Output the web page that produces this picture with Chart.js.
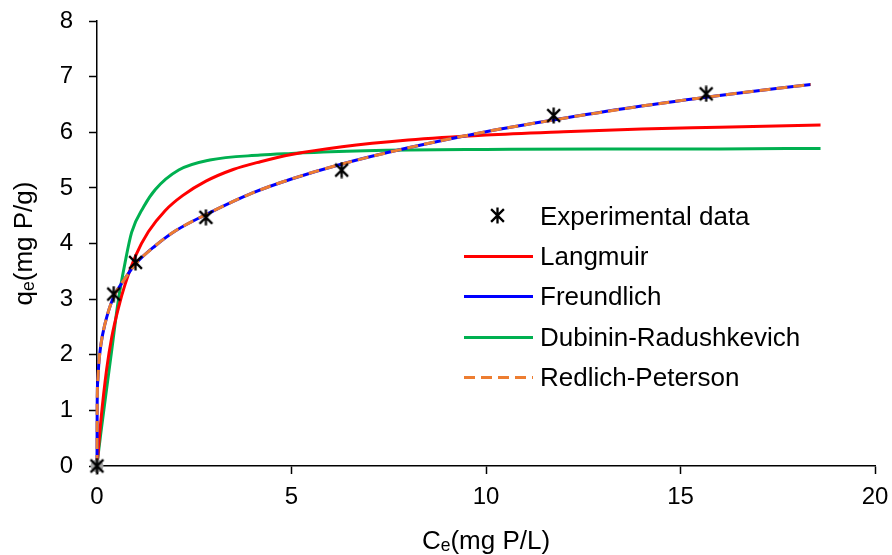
<!DOCTYPE html>
<html>
<head>
<meta charset="utf-8">
<script src="https://cdn.jsdelivr.net/npm/chart.js@4.4.1/dist/chart.umd.min.js"></script>
<style>
  html, body { margin: 0; padding: 0; background: #fff; }
  #wrap { position: relative; width: 892px; height: 555px; }
  #legend {
    position: absolute; left: 463px; top: 196px;
    font-family: "Liberation Sans", Arial, sans-serif; font-size: 26px; color: #000;
  }
  .row { display: flex; align-items: center; height: 40.4px; white-space: nowrap; }
  .swatch { position: relative; width: 70px; height: 20px; margin-right: 7px; }
  .swatch .ln { position: absolute; left: 1px; width: 69px; top: 8.5px; height: 3px; }
  .swatch canvas { position: absolute; left: 26px; top: 1px; }
</style>
</head>
<body>
<div id="wrap">
  <canvas id="isotherms" width="892" height="555"></canvas>
  <div id="legend"></div>
</div>
<script>
// experimental points
var expC = [0, 0.43, 0.99, 2.8, 6.29, 11.74, 15.66];
var expQ = [0, 3.09, 3.66, 4.47, 5.32, 6.30, 6.69];

// model curves
var langC = [0, 0.1, 0.25, 0.38, 0.55, 0.72, 1, 1.32, 1.75, 2.2, 2.8, 3.5, 4.2, 5, 6.3, 8, 10, 12, 14, 16, 18.6];
var langQ = [0, 0.82, 1.75, 2.32, 2.84, 3.26, 3.79, 4.21, 4.59, 4.86, 5.12, 5.33, 5.47, 5.60, 5.74, 5.86, 5.95, 6.01, 6.06, 6.09, 6.13];

var freC = [0, 0.005, 0.02, 0.05, 0.1, 0.2, 0.42, 0.7, 1, 1.5, 2, 2.8, 4, 5, 6.3, 8, 10, 12, 14, 16, 18.35];
var freQ = [0, 1.13, 1.53, 1.87, 2.18, 2.54, 3.03, 3.35, 3.64, 3.96, 4.22, 4.52, 4.91, 5.16, 5.43, 5.72, 6.01, 6.25, 6.47, 6.66, 6.86];

var drC = [0, 0.035, 0.1, 0.21, 0.38, 0.55, 0.72, 0.89, 1.2, 1.5, 2.1, 2.9, 4.2, 5, 6, 8, 10, 13, 16, 18.6];
var drQ = [0, 0.23, 0.6, 1.19, 2.09, 2.99, 3.65, 4.2, 4.66, 4.97, 5.32, 5.5, 5.59, 5.62, 5.65, 5.68, 5.69, 5.70, 5.70, 5.71];

var rpC = [0, 0.005, 0.02, 0.05, 0.1, 0.2, 0.42, 0.7, 1, 1.5, 2, 2.8, 4, 5, 6.3, 8, 10, 12, 14, 16, 18.35];
var rpQ = [0, 1.13, 1.53, 1.87, 2.18, 2.54, 3.03, 3.35, 3.64, 3.96, 4.22, 4.52, 4.91, 5.16, 5.43, 5.72, 6.01, 6.25, 6.47, 6.66, 6.86];

var xTicks = [0, 5, 10, 15, 20];
var yTicks = [0, 1, 2, 3, 4, 5, 6, 7, 8];

var FONT = '"Liberation Sans", Arial, "DejaVu Sans", sans-serif';

function pts(xs, ys) {
  return xs.map(function (x, i) { return { x: x, y: ys[i] }; });
}

// excel style star marker: an X with a vertical bar
function makeStar(size, lw) {
  var c = document.createElement('canvas');
  c.width = size; c.height = size;
  var g = c.getContext('2d');
  var m = size / 2, r = size / 2 - 0.5, d = r * 0.8;
  g.strokeStyle = '#000';
  g.lineWidth = lw;
  g.beginPath();
  g.moveTo(m - d, m - d); g.lineTo(m + d, m + d);
  g.moveTo(m + d, m - d); g.lineTo(m - d, m + d);
  g.moveTo(m, m - r); g.lineTo(m, m + r);
  g.stroke();
  return c;
}

var curve = function (label, xs, ys, color, order, dash) {
  return {
    label: label,
    data: pts(xs, ys),
    borderColor: color,
    backgroundColor: color,
    borderWidth: 3,
    borderDash: dash || [],
    pointRadius: 0,
    showLine: true,
    fill: false,
    cubicInterpolationMode: 'monotone',
    clip: false,
    order: order
  };
};

var datasets = [
  {
    label: 'Experimental data',
    data: pts(expC, expQ),
    pointStyle: makeStar(17, 2.3),
    pointRadius: 8,
    showLine: false,
    clip: false,
    order: 0,
    marker: true
  },
  curve('Langmuir', langC, langQ, '#FF0000', 4),
  curve('Freundlich', freC, freQ, '#0000FF', 3),
  curve('Dubinin-Radushkevich', drC, drQ, '#00B050', 5),
  curve('Redlich-Peterson', rpC, rpQ, '#ED7D31', 2, [11, 6]),
  {
    label: 'origin',
    data: pts(expC.slice(0, 1), expQ.slice(0, 1)),
    pointStyle: 'circle',
    pointRadius: 6,
    backgroundColor: '#A6A6A6',
    borderColor: '#A6A6A6',
    showLine: false,
    clip: false,
    order: 1,
    hideInLegend: true
  }
];

var axisFont = { family: FONT, size: 24 };
var titleFont = { family: FONT, size: 26 };

// keep the plot box where the original has it; labels may overhang the padding
function noOverhang(s) {
  s.paddingTop = 0; s.paddingBottom = 0; s.paddingLeft = 0; s.paddingRight = 0;
}

var ctx = document.getElementById('isotherms').getContext('2d');
var chart = new Chart(ctx, {
  type: 'scatter',
  data: { datasets: datasets },
  options: {
    responsive: false,
    animation: false,
    layout: { padding: { top: 21, right: 17, bottom: 0, left: 0 } },
    plugins: { legend: { display: false }, tooltip: { enabled: false } },
    scales: {
      x: {
        type: 'linear', min: 0, max: 20,
        afterBuildTicks: function (s) { s.ticks = xTicks.map(function (v) { return { value: v }; }); },
        afterFit: function (s) { s.height = 89; noOverhang(s); },
        ticks: { font: axisFont, color: '#000', padding: 9, maxRotation: 0 },
        grid: { display: true, drawOnChartArea: false, drawTicks: true, tickLength: 8, tickColor: '#000', tickWidth: 1.5 },
        border: { display: true, color: '#000', width: 1.5 },
        title: { display: true, text: 'Cₑ(mg P/L)', font: titleFont, color: '#000', padding: { top: 0, bottom: -2 } }
      },
      y: {
        type: 'linear', min: 0, max: 8,
        afterBuildTicks: function (s) { s.ticks = yTicks.map(function (v) { return { value: v }; }); },
        afterFit: function (s) { s.width = 97; noOverhang(s); },
        ticks: { font: axisFont, color: '#000', padding: 16 },
        grid: { display: true, drawOnChartArea: false, drawTicks: true, tickLength: 8, tickColor: '#000', tickWidth: 1.5 },
        border: { display: true, color: '#000', width: 1.5 },
        title: { display: true, text: 'qₑ(mg P/g)', font: titleFont, color: '#000', padding: { top: 9, bottom: 0 } }
      }
    }
  }
});

// html legend built from the datasets
var legend = document.getElementById('legend');
chart.data.datasets.forEach(function (ds) {
  if (ds.hideInLegend) return;
  var row = document.createElement('div');
  row.className = 'row';
  var sw = document.createElement('div');
  sw.className = 'swatch';
  if (ds.marker) {
    sw.appendChild(makeStar(17, 2.3));
  } else {
    var ln = document.createElement('div');
    ln.className = 'ln';
    if (ds.borderDash.length) {
      var a = ds.borderDash[0], b = ds.borderDash[0] + ds.borderDash[1];
      ln.style.background = 'repeating-linear-gradient(to right, ' + ds.borderColor + ' 0 ' + a + 'px, transparent ' + a + 'px ' + b + 'px)';
    } else {
      ln.style.background = ds.borderColor;
    }
    sw.appendChild(ln);
  }
  var tx = document.createElement('span');
  tx.textContent = ds.label;
  row.appendChild(sw);
  row.appendChild(tx);
  legend.appendChild(row);
});
</script>
</body>
</html>
